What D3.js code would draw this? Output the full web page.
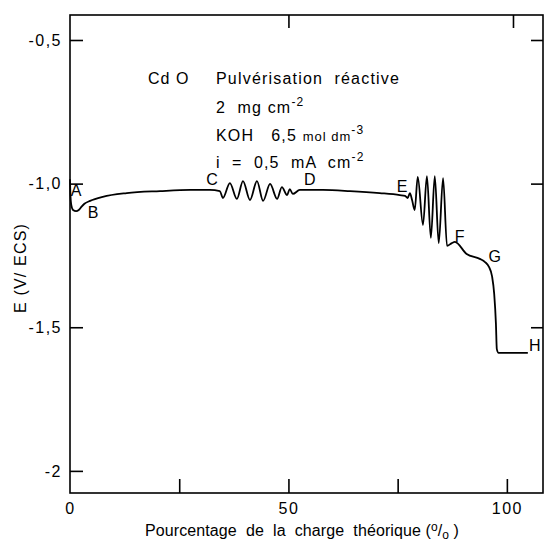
<!DOCTYPE html>
<html>
<head>
    <meta charset="utf-8">
    <title>CdO - pulvérisation réactive</title>
    <script src="https://d3js.org/d3.v7.min.js"></script>
    <style>
        body { margin: 0; background: #fff; }
        svg { font-family: "Liberation Sans", Arial, sans-serif; }
        text { white-space: pre; }
    </style>
</head>
<body>
    <script type="text/javascript">
    // charge (% of theoretical) and potential E (V vs ECS)
    const charge = [0, 0.1, 0.3, 0.7, 1.4, 2.0, 2.6, 3.3, 4.6, 7.5, 13, 20.6, 27.5, 32, 34.3,
        35.0, 36.6, 38.2, 39.6, 41.2, 42.8, 44.2, 45.8, 47.4, 48.5, 49.7, 50.3, 51.0, 52.6,
        57.9, 64.1, 70.9, 75.5, 76.7, 77.3, 77.8, 78.3,
        78.9, 79.6, 80.8, 81.7, 82.6, 83.5, 84.4, 85.4, 86.3, 87.4, 88.1,
        90.8, 93.8, 95.0, 95.9, 96.6, 97.1, 97.5, 97.7, 98.1, 104.8];
    const potential = [-0.985, -1.040, -1.075, -1.092, -1.096, -1.092, -1.081, -1.070, -1.060, -1.046, -1.033, -1.026, -1.022, -1.022, -1.026,
        -1.050, -0.998, -1.053, -0.991, -1.057, -0.991, -1.060, -1.001, -1.053, -1.012, -1.040, -1.019, -1.036, -1.022,
        -1.022, -1.026, -1.033, -1.040, -1.043, -1.050, -1.033, -1.057,
        -1.092, -0.977, -1.144, -0.974, -1.189, -0.974, -1.207, -0.981, -1.217, -1.207, -1.203,
        -1.245, -1.262, -1.273, -1.290, -1.322, -1.384, -1.489, -1.576, -1.589, -1.589];

    // point labels A..H
    const pointNames = ["A", "B", "C", "D", "E", "F", "G", "H"];
    const pointCharge = [1.4, 5.3, 32.5, 54.9, 76.0, 89.2, 97.2, 106.4];
    const pointE = [-1.025, -1.099, -0.987, -0.987, -1.008, -1.182, -1.252, -1.562];

    const xTicksBottom = [25, 50, 75, 100];
    const xTicksTop = [50, 101.4];
    const xTickLabels = [0, 50, 100];
    const yTicks = [-0.5, -1.0, -1.5, -2];
    const yTicksRight = [-0.5, -1.0, -1.5];

    const width = 545, height = 546;
    const margin = {top: 15, right: 1, bottom: 53, left: 70};

    const x = d3.scaleLinear().domain([0, 108.5]).range([margin.left, width - margin.right]);
    const y = d3.scaleLinear().domain([-0.413, -2.077]).range([margin.top, height - margin.bottom]);

    const svg = d3.select("body").append("svg")
        .attr("width", width)
        .attr("height", height);

    const fmt = d => d === -2 ? "-2" : d.toFixed(1).replace(".", ",");

    // frame
    svg.append("rect")
        .attr("x", x(0)).attr("y", y(-0.413))
        .attr("width", x(108.5) - x(0) - 1).attr("height", y(-2.077) - y(-0.413))
        .attr("fill", "none").attr("stroke", "#000").attr("stroke-width", 1.6);

    // axes (ticks point inward)
    svg.append("g")
        .attr("transform", `translate(${x(0)},0)`)
        .call(d3.axisLeft(y).tickValues(yTicks).tickSize(-13).tickPadding(8).tickFormat(fmt));

    svg.append("g")
        .attr("transform", `translate(0,${y(-2.077)})`)
        .call(d3.axisBottom(x).tickValues(xTicksBottom).tickSize(-14).tickFormat(""));

    svg.append("g")
        .attr("transform", `translate(0,${y(-2.077)})`)
        .call(d3.axisBottom(x).tickValues(xTickLabels).tickSize(0).tickPadding(10).tickFormat(d3.format("d")));

    svg.append("g")
        .attr("transform", `translate(0,${y(-0.413)})`)
        .call(d3.axisTop(x).tickValues(xTicksTop).tickSize(-13).tickFormat(""));

    svg.append("g")
        .attr("transform", `translate(${x(108.5) - 1},0)`)
        .call(d3.axisRight(y).tickValues(yTicksRight).tickSize(-12).tickFormat(""));

    svg.selectAll(".domain").remove();
    svg.selectAll(".tick line").attr("stroke", "#000").attr("stroke-width", 1.6);
    svg.selectAll(".tick text").attr("font-size", 16).attr("fill", "#000")
        .attr("letter-spacing", 1.5)
        .attr("font-family", "Liberation Sans, Arial, sans-serif");

    // axis titles
    const xt = svg.append("text")
        .attr("x", 145).attr("y", 536)
        .attr("font-size", 16).attr("letter-spacing", 0.1);
    xt.append("tspan").text("Pourcentage  de  la  charge  théorique (");
    xt.append("tspan").attr("dy", -5).attr("font-size", 12).text("o");
    xt.append("tspan").attr("dy", 5).text("/");
    xt.append("tspan").attr("dy", 3).attr("font-size", 12).text("o");
    xt.append("tspan").attr("dy", -3).text(" )");

    svg.append("text")
        .attr("transform", "translate(26,268) rotate(-90)")
        .attr("text-anchor", "middle")
        .attr("font-size", 16)
        .attr("letter-spacing", 1.2)
        .text("E (V/ ECS)");

    // legend text
    const note = svg.append("g").attr("font-size", 16).attr("letter-spacing", 1.2);
    note.append("text").attr("x", 148).attr("y", 84).attr("letter-spacing", 1).text("Cd O");
    note.append("text").attr("x", 216).attr("y", 84).text("Pulvérisation  réactive");
    const l2 = note.append("text").attr("x", 216).attr("y", 113);
    l2.append("tspan").text("2  mg cm");
    l2.append("tspan").attr("dy", -7).attr("font-size", 12).text("-2");
    const l3 = note.append("text").attr("x", 216).attr("y", 141);
    l3.append("tspan").text("KOH   6,5 ");
    l3.append("tspan").attr("font-size", 13).attr("letter-spacing", 1).text("mol dm");
    l3.append("tspan").attr("dy", -7).attr("font-size", 12).text("-3");
    const l4 = note.append("text").attr("x", 216).attr("y", 168);
    l4.append("tspan").text("i  =  0,5  mA  cm");
    l4.append("tspan").attr("dy", -7).attr("font-size", 12).text("-2");

    // curve
    const pts = charge.map((c, i) => [c, potential[i]]);
    const line = d3.line().x(d => x(d[0])).y(d => y(d[1])).curve(d3.curveMonotoneX);
    svg.append("path")
        .datum(pts)
        .attr("d", line)
        .attr("fill", "none")
        .attr("stroke", "#000")
        .attr("stroke-width", 1.8)
        .attr("stroke-linejoin", "round");

    // point labels
    svg.append("g").selectAll("text")
        .data(pointNames)
        .join("text")
        .attr("x", (d, i) => x(pointCharge[i]))
        .attr("y", (d, i) => y(pointE[i]))
        .attr("dy", "0.35em")
        .attr("text-anchor", "middle")
        .attr("font-size", 16)
        .text(d => d);
    </script>
</body>
</html>
